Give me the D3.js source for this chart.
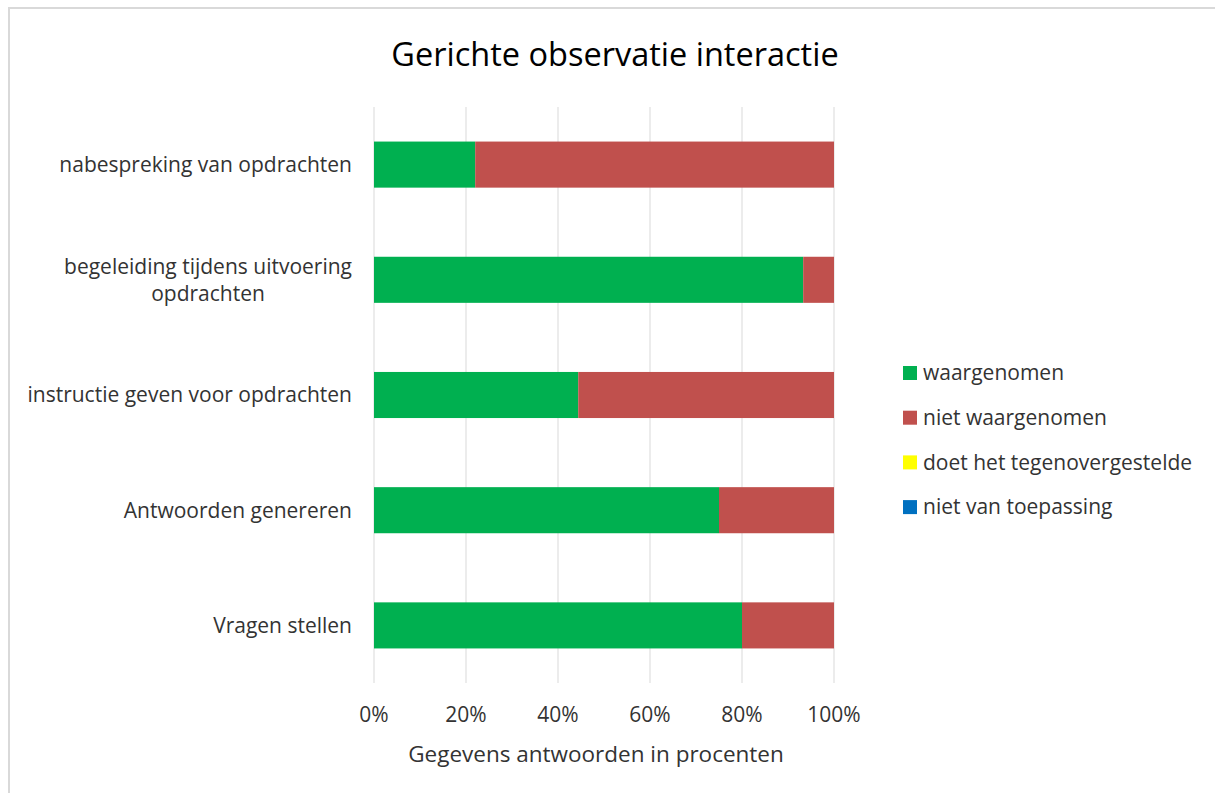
<!DOCTYPE html>
<html>
<head>
<meta charset="utf-8">
<title>Gerichte observatie interactie</title>
<script src="https://d3js.org/d3.v7.min.js"></script>
<style>
  body { margin: 0; background: #fff; }
  text { font-family: "Open Sans", sans-serif; fill: #333; }
</style>
</head>
<body>
<div id="chart"></div>
<script>
// data (percentages)
var categories = [
  "nabespreking van opdrachten",
  "begeleiding tijdens uitvoering opdrachten",
  "instructie geven voor opdrachten",
  "Antwoorden genereren",
  "Vragen stellen"
];
var labelLines = [
  ["nabespreking van opdrachten"],
  ["begeleiding tijdens uitvoering", "opdrachten"],
  ["instructie geven voor opdrachten"],
  ["Antwoorden genereren"],
  ["Vragen stellen"]
];
var seriesNames = ["waargenomen", "niet waargenomen", "doet het tegenovergestelde", "niet van toepassing"];
var waargenomen = [22, 93.3, 44.4, 75, 80];
var nietWaargenomen = [78, 6.7, 55.6, 25, 20];
var tegenovergestelde = [0, 0, 0, 0, 0];
var nvt = [0, 0, 0, 0, 0];
var tickValues = [0, 20, 40, 60, 80, 100];
var colors = ["#00B050", "#C0504D", "#FFFF00", "#0070C0"];

var width = 1215, height = 793;
var plot = { left: 374, right: 834, top: 107, bottom: 683 };

var svg = d3.select("#chart").append("svg")
  .attr("width", width)
  .attr("height", height);

// chart border
svg.append("rect")
  .attr("x", 9).attr("y", 8)
  .attr("width", 1230).attr("height", 800)
  .attr("fill", "none")
  .attr("stroke", "#d9d9d9")
  .attr("stroke-width", 2);

var rows = categories.map(function(c, i) {
  return {
    cat: c,
    "waargenomen": waargenomen[i],
    "niet waargenomen": nietWaargenomen[i],
    "doet het tegenovergestelde": tegenovergestelde[i],
    "niet van toepassing": nvt[i]
  };
});

var x = d3.scaleLinear().domain([0, 100]).range([plot.left, plot.right]);
var y = d3.scaleBand().domain(categories).range([plot.top, plot.bottom])
  .paddingInner(0.6).paddingOuter(0.3);
var color = d3.scaleOrdinal().domain(seriesNames).range(colors);

// title
svg.append("text")
  .attr("x", 615).attr("y", 66)
  .attr("text-anchor", "middle")
  .style("font-size", "32.5px")
  .style("fill", "#000")
  .text("Gerichte observatie interactie");

// gridlines
svg.append("g")
  .selectAll("line")
  .data(tickValues)
  .enter().append("line")
    .attr("x1", function(d) { return x(d); })
    .attr("x2", function(d) { return x(d); })
    .attr("y1", plot.top).attr("y2", plot.bottom)
    .attr("stroke", "#d9d9d9")
    .attr("stroke-width", 1);

// stacked bars
var stacked = d3.stack().keys(seriesNames)(rows);

svg.append("g")
  .selectAll("g")
  .data(stacked)
  .enter().append("g")
    .attr("fill", function(d) { return color(d.key); })
  .selectAll("rect")
  .data(function(d) { return d; })
  .enter().append("rect")
    .attr("x", function(d) { return x(d[0]); })
    .attr("y", function(d) { return y(d.data.cat); })
    .attr("width", function(d) { return x(d[1]) - x(d[0]); })
    .attr("height", y.bandwidth());

// x tick labels
svg.append("g")
  .selectAll("text")
  .data(tickValues)
  .enter().append("text")
    .attr("x", function(d) { return x(d); })
    .attr("y", 722)
    .attr("text-anchor", "middle")
    .style("font-size", "21px")
    .text(function(d) { return d + "%"; });

// x axis title
svg.append("text")
  .attr("x", 596)
  .attr("y", 762)
  .attr("text-anchor", "middle")
  .style("font-size", "22.5px")
  .text("Gegevens antwoorden in procenten");

// category labels (multi-line: block right-aligned, lines centred)
categories.forEach(function(c, i) {
  var lines = labelLines[i];
  var cy = y(c) + y.bandwidth() / 2;
  var lh = 27;
  var g = svg.append("g");
  var texts = lines.map(function(l, j) {
    return g.append("text")
      .attr("y", cy + (j - (lines.length - 1) / 2) * lh)
      .attr("dy", "0.35em")
      .style("font-size", "21px")
      .text(l);
  });
  var maxW = d3.max(texts, function(t) { return t.node().getComputedTextLength(); });
  var right = 352;
  texts.forEach(function(t) {
    t.attr("x", right - maxW / 2).attr("text-anchor", "middle");
  });
});

// legend
var legend = svg.append("g")
  .selectAll("g")
  .data(seriesNames)
  .enter().append("g")
    .attr("transform", function(d, i) { return "translate(903," + (373 + i * 44.7) + ")"; });

legend.append("rect")
  .attr("x", 0).attr("y", -7)
  .attr("width", 14).attr("height", 14)
  .attr("fill", function(d) { return color(d); });

legend.append("text")
  .attr("x", 20)
  .attr("dy", "0.35em")
  .style("font-size", "21px")
  .text(function(d) { return d; });
</script>
</body>
</html>
